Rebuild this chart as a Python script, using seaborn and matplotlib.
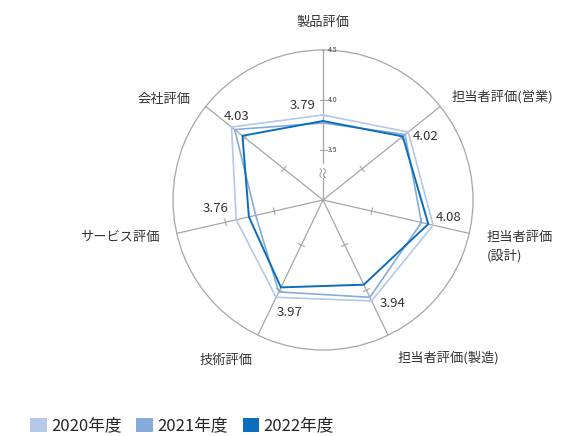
import numpy as np
import pandas as pd
import matplotlib
matplotlib.use("Agg")
import matplotlib.pyplot as plt
import seaborn as sns
from matplotlib.patches import Patch

# --- data -------------------------------------------------------------
categories = ["製品評価", "担当者評価(営業)", "担当者評価(設計)", "担当者評価(製造)",
              "技術評価", "サービス評価", "会社評価"]
years = ["2020年度", "2021年度", "2022年度"]
scores_2020 = [3.85, 4.09, 4.13, 4.12, 4.08, 3.89, 4.17]
scores_2021 = [3.77, 4.05, 4.01, 4.08, 4.02, 3.69, 4.13]
scores_2022 = [3.79, 4.02, 4.08, 3.94, 3.97, 3.76, 4.03]
r_ticks = [3.5, 4.0, 4.5]
r_tick_labels = ["3.5", "4.0", "4.5"]
r_min, r_max = 3.0, 4.5

colors = {"2020年度": "#b4c8e8", "2021年度": "#86acdc", "2022年度": "#0a6ebd"}
widths = {"2020年度": 1.2, "2021年度": 1.2, "2022年度": 1.4}

# --- style ------------------------------------------------------------
sns.set_style("white")
plt.rcParams["font.family"] = ["Noto Sans CJK JP", "DejaVu Sans"]

W, H = 585, 436
fig = plt.figure(figsize=(W / 100, H / 100), dpi=100)

cx, cy, R = 323, 200, 150
ax = fig.add_axes([(cx - R) / W, (H - cy - R) / H, 2 * R / W, 2 * R / H],
                  projection="polar")
ax.set_theta_zero_location("N")
ax.set_theta_direction(-1)
ax.set_ylim(r_min, r_max)

n = len(categories)
angles = np.arange(n) * 2 * np.pi / n

# long-form table; each polygon is closed by repeating its first vertex at 2π
rows = []
for year, vals in zip(years, [scores_2020, scores_2021, scores_2022]):
    for k in range(n):
        rows.append({"year": year, "theta": angles[k], "value": vals[k]})
    rows.append({"year": year, "theta": 2 * np.pi, "value": vals[0]})
df = pd.DataFrame(rows)

# spokes and outer ring
ax.set_xticks(angles)
ax.set_xticklabels([])
ax.set_yticks([])
ax.xaxis.grid(True, color="#a6a6a6", linewidth=0.9)
ax.yaxis.grid(False)
ax.spines["polar"].set_color("#a6a6a6")
ax.spines["polar"].set_linewidth(0.9)

# small cross ticks on each spoke
half = 0.035
for th in angles:
    for rv in r_ticks[:2]:
        d = rv - r_min
        dth = np.arctan(half / d)
        rr = r_min + np.hypot(d, half)
        ax.plot([th - dth, th + dth], [rr, rr], color="#a6a6a6", lw=0.8, zorder=2)

for year in years:
    sub = df[df["year"] == year]
    sns.lineplot(data=sub, x="theta", y="value", sort=False, estimator=None,
                 color=colors[year], linewidth=widths[year], ax=ax, legend=False,
                 zorder=3)
ax.set_xlabel("")
ax.set_ylabel("")
ax.set_ylim(r_min, r_max)

# radial scale labels on the top spoke
for rv, lab in zip(r_ticks, r_tick_labels):
    ax.annotate(lab, xy=(0, rv), xytext=(5, 0), textcoords="offset pixels",
                ha="left", va="center", fontsize=5, color="#404040")
# axis-break mark near the centre
ax.text(0, 3.29, "≈", ha="center", va="center", fontsize=10, color="#999999",
        rotation=90, zorder=4,
        bbox=dict(facecolor="white", edgecolor="none", pad=0.2))

# value labels for the latest year
offsets = [(-20, 16), (23, 0), (20, 7), (29, -19), (9, -25), (-33, 8), (-6, 19)]
for k in range(n):
    ax.annotate(f"{scores_2022[k]:.2f}", xy=(angles[k], scores_2022[k]),
                xytext=offsets[k], textcoords="offset pixels",
                ha="center", va="center", fontsize=9.5, color="#333333", zorder=5)

# category labels
def fpos(x, y):
    return x / W, 1 - y / H

lab_kw = dict(fontsize=9.5, color="#333333", va="center")
fig.text(*fpos(323, 22), categories[0], ha="center", **lab_kw)
fig.text(*fpos(452, 97), categories[1], ha="left", **lab_kw)
fig.text(*fpos(487, 246.5), "担当者評価\n(設計)", ha="left", linespacing=1.45,
         **lab_kw)
fig.text(*fpos(398, 358), categories[3], ha="left", **lab_kw)
fig.text(*fpos(226, 360), categories[4], ha="center", **lab_kw)
fig.text(*fpos(160, 238), categories[5], ha="right", **lab_kw)
fig.text(*fpos(191, 100), categories[6], ha="right", **lab_kw)

# legend
handles = [Patch(facecolor=colors[y], edgecolor="none", label=y) for y in years]
fig.legend(handles=handles, loc="center left", bbox_to_anchor=fpos(30, 426),
           ncol=3, frameon=False, fontsize=12, handlelength=1.0,
           handleheight=0.9, handletextpad=0.25, columnspacing=0.9,
           borderpad=0, borderaxespad=0)

fig.savefig("out.png", dpi=100)
